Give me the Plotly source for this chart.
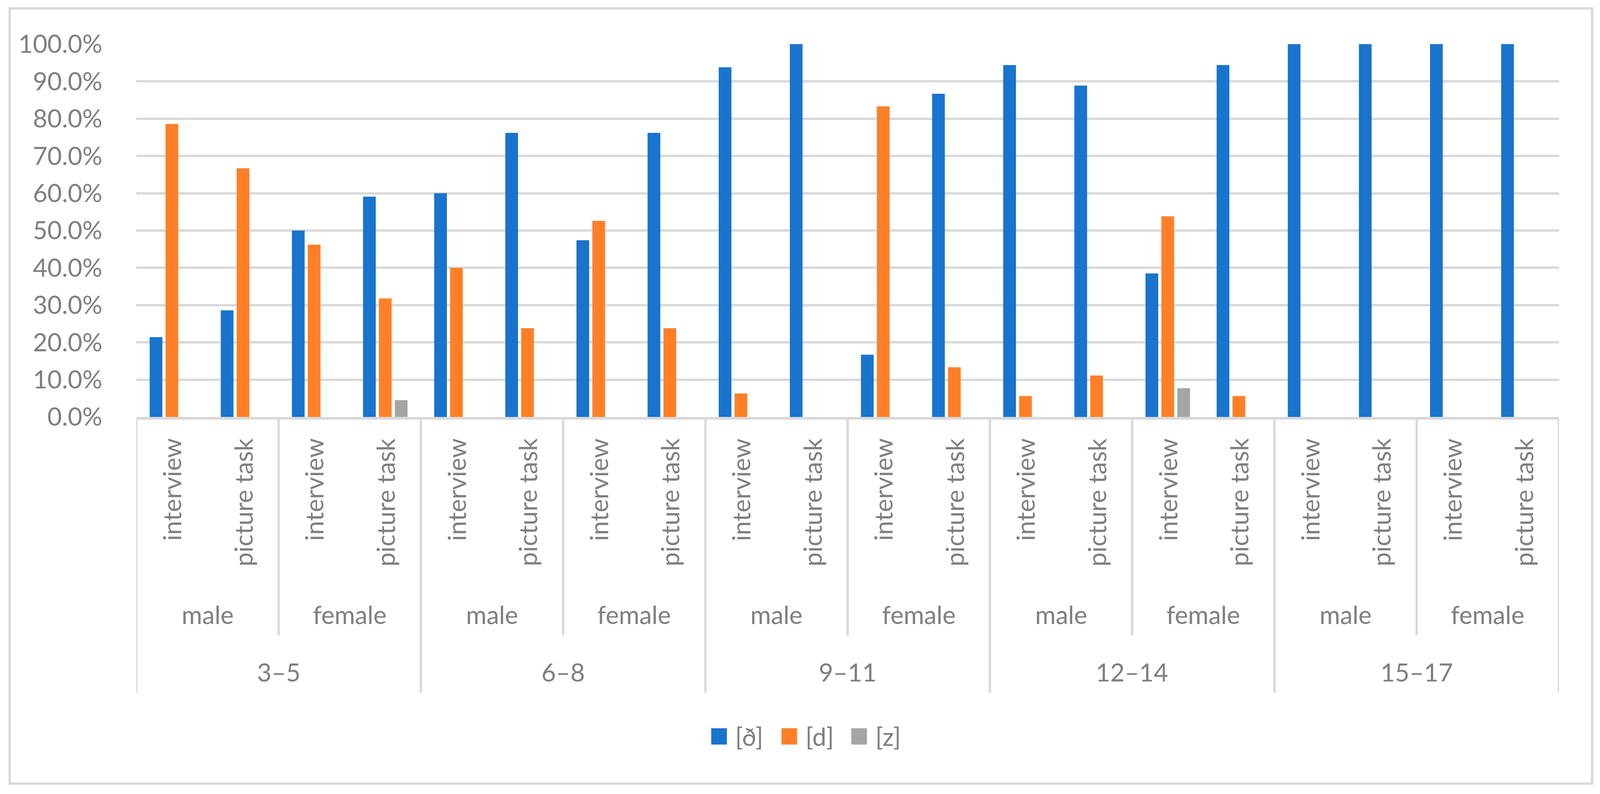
import plotly.graph_objects as go

# ---------------- data ----------------
age_groups = ["3–5", "6–8", "9–11", "12–14", "15–17"]
genders = ["male", "female"]
tasks = ["interview", "picture task"]

series_names = ["[ð]", "[d]", "[z]"]
series_colors = ["#1874CD", "#FF7F27", "#A5A5A5"]

# order: age -> gender -> task
eth_vals = [21.4, 28.6, 50.0, 59.1,
            60.0, 76.2, 47.4, 76.2,
            93.8, 100.0, 16.7, 86.7,
            94.4, 88.9, 38.5, 94.4,
            100.0, 100.0, 100.0, 100.0]
d_vals = [78.6, 66.7, 46.2, 31.8,
          40.0, 23.8, 52.6, 23.8,
          6.3, 0.0, 83.3, 13.3,
          5.6, 11.1, 53.8, 5.6,
          0.0, 0.0, 0.0, 0.0]
z_vals = [0.0, 0.0, 0.0, 4.5,
          0.0, 0.0, 0.0, 0.0,
          0.0, 0.0, 0.0, 0.0,
          0.0, 0.0, 7.7, 0.0,
          0.0, 0.0, 0.0, 0.0]
y_ticks = [0, 10, 20, 30, 40, 50, 60, 70, 80, 90, 100]
y_tick_labels = ["0.0%", "10.0%", "20.0%", "30.0%", "40.0%", "50.0%",
                 "60.0%", "70.0%", "80.0%", "90.0%", "100.0%"]

# ---------------- geometry ----------------
# reference pixel positions are mapped onto the visible page area
REF_W, REF_H = 4398, 2032
VIEW_W = 4096
OFF = 8
SX = VIEW_W / REF_W


def fx(px):   # reference x -> figure x
    return px * SX - OFF


def fy(py):   # reference y -> figure y
    return py - OFF


W = int(round(fx(REF_W)))
H = int(round(fy(REF_H)))
PL, PR = fx(375), fx(4285)
PT, PB = fy(112.5), fy(1067.5)

FONT = "Lato"
FS = 64
TXT = "#7F7F7F"
LINE = "#D9D9D9"


def xp(px_ref):
    return (fx(px_ref) - PL) / (PR - PL)


def yp(py_ref):
    return (PB - fy(py_ref)) / (PB - PT)


cats = []
for a in age_groups:
    for g in genders:
        for t in tasks:
            cats.append(f"{a}|{g}|{t}")

fig = go.Figure()
for name, vals, col in zip(series_names, [eth_vals, d_vals, z_vals], series_colors):
    fig.add_trace(go.Bar(x=cats, y=vals, name=name, marker_color=col,
                         marker_line_width=0, showlegend=False))

annotations = []
shapes = []

# task labels (rotated)
for c in cats:
    annotations.append(dict(x=c, xref="x", y=yp(1120), yref="paper",
                            text=c.split("|")[2], textangle=-90, showarrow=False,
                            xanchor="center", yanchor="top",
                            font=dict(family=FONT, size=FS, color=TXT)))

n_per_gender = len(tasks)
n_per_age = len(tasks) * len(genders)

# gender labels
idx = 0
for a in age_groups:
    for g in genders:
        center = idx + (n_per_gender - 1) / 2
        annotations.append(dict(x=center, xref="x", y=yp(1574), yref="paper",
                                text=g, showarrow=False, xanchor="center", yanchor="middle",
                                font=dict(family=FONT, size=FS, color=TXT)))
        idx += n_per_gender

# age labels
for k, a in enumerate(age_groups):
    center = k * n_per_age + (n_per_age - 1) / 2
    annotations.append(dict(x=center, xref="x", y=yp(1721), yref="paper",
                            text=a, showarrow=False, xanchor="center", yanchor="middle",
                            font=dict(family=FONT, size=FS, color=TXT)))

# separators of the category hierarchy
n_cats = len(cats)
for b in range(0, n_cats + 1, n_per_gender):
    is_age = (b % n_per_age == 0)
    bottom = yp(1774) if is_age else yp(1627)
    shapes.append(dict(type="line", xref="x", yref="paper", x0=b - 0.5, x1=b - 0.5,
                       y0=0, y1=bottom, line=dict(color=LINE, width=6)))

# chart border
shapes.append(dict(type="rect", xref="paper", yref="paper",
                   x0=xp(27), x1=xp(4376), y0=yp(21), y1=yp(2007),
                   line=dict(color=LINE, width=6), fillcolor="rgba(0,0,0,0)", layer="below"))

# legend
leg_sq = [1955, 2148, 2340]
sq_w = 43
ly0, ly1 = 1865, 1907
for name, col, sx in zip(series_names, series_colors, leg_sq):
    shapes.append(dict(type="rect", xref="paper", yref="paper",
                       x0=xp(sx), x1=xp(sx + sq_w), y0=yp(ly0), y1=yp(ly1),
                       line=dict(width=0), fillcolor=col))
    annotations.append(dict(x=xp(sx + sq_w + 21), y=yp((ly0 + ly1) / 2), xref="paper", yref="paper",
                            text=name, showarrow=False, xanchor="left", yanchor="middle",
                            font=dict(family=FONT, size=FS, color=TXT)))

fig.update_layout(
    width=W, height=H,
    margin=dict(l=PL, r=W - PR, t=PT, b=H - PB, pad=0),
    paper_bgcolor="white", plot_bgcolor="white",
    barmode="group", bargap=0.33, bargroupgap=0.2,
    annotations=annotations, shapes=shapes,
    font=dict(family=FONT, size=FS, color=TXT),
    xaxis=dict(type="category", categoryorder="array", categoryarray=cats,
               range=[-0.5, n_cats - 0.5], showticklabels=False, ticks="",
               showgrid=False, showline=True, linecolor=LINE, linewidth=7,
               zeroline=False, fixedrange=True),
    yaxis=dict(range=[0, 100], tickmode="array", tickvals=y_ticks, ticktext=y_tick_labels,
               showgrid=True, gridcolor=LINE, gridwidth=6, zeroline=False,
               showline=False, ticks="", ticklabelstandoff=86,
               tickfont=dict(family=FONT, size=FS, color=TXT)),
)

fig.write_html("out.html")
